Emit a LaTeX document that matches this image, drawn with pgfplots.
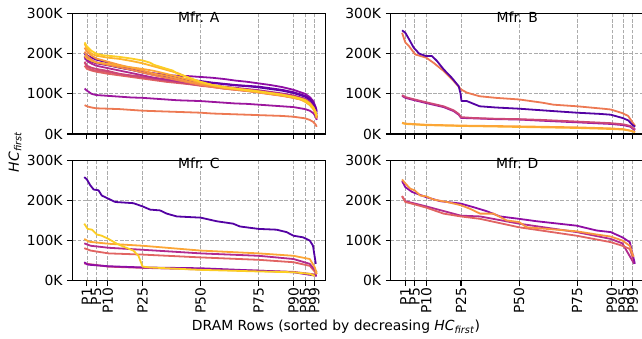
\documentclass[border=0pt]{standalone}
\usepackage{pgfplots}
\pgfplotsset{compat=1.18}
\usepackage{fontspec}
\setmainfont{DejaVu Sans}
\definecolor{pIndigo}{HTML}{5402A3}
\definecolor{pViolet}{HTML}{6A00A8}
\definecolor{pPurple}{HTML}{8F0DA4}
\definecolor{pPurpleB}{HTML}{9C179E}
\definecolor{pMagenta}{HTML}{B12A90}
\definecolor{pPink}{HTML}{CC4778}
\definecolor{pRose}{HTML}{D8576B}
\definecolor{pSalmon}{HTML}{E16462}
\definecolor{pCoral}{HTML}{ED7953}
\definecolor{pOrangeA}{HTML}{F2844B}
\definecolor{pOrange}{HTML}{F89540}
\definecolor{pOrangeB}{HTML}{FCA636}
\definecolor{pGold}{HTML}{FDB42F}
\definecolor{pYellow}{HTML}{FCCE25}
\begin{document}
\fontsize{13.9bp}{16bp}\selectfont
\begin{tikzpicture}
\useasboundingbox (0bp,0bp) rectangle (642bp,-339bp);
\pgfplotsset{
  panel/.style={
    scale only axis, width=253bp, height=120.5bp, anchor=north west,
    xmin=-5.3, xmax=103.7, ymin=0, ymax=300,
    xtick={1,5,10,25,50,75,90,95,99},
    ytick={0,100,200,300}, yticklabels={0K,100K,200K,300K},
    grid=major,
    major grid style={gray!65, line width=0.8bp, dash pattern=on 3.7bp off 1.6bp},
    tick align=outside, tick pos=left, major tick length=4.9bp,
    axis line style={line width=1.1bp},
    every tick/.style={black, line width=1.1bp},
    tick label style={font=\fontsize{13.9bp}{16bp}\selectfont},
    xticklabel style={rotate=90, anchor=east, inner sep=2bp},
    title style={at={(0.5,1)}, anchor=north, inner sep=0pt, yshift=-4bp, font=\fontsize{13.9bp}{16bp}\selectfont},
    every axis plot/.append style={line width=1.8bp, line join=round, no marks},
  }
}
% ---------------- Mfr. A
\begin{axis}[panel, at={(72.3bp,-13.5bp)}, title={Mfr. A}, xticklabels={}]
\addplot[pCoral] coordinates {(0,72)(1,69)(3,66)(5,64)(10,63)(15,62)(20,60)(25,58)(30,57)(35,56)(40,55)(45,54)(50,53)(55,51)(60,50)(65,49)(70,48)(75,47)(80,46)(85,45)(90,43)(95,39)(97,35)(98.5,30)(99.5,24)(100,18)};
\addplot[pPurpleB] coordinates {(0,113)(1,108)(3,100)(5,97)(10,95)(15,93)(20,91)(25,90)(30,88)(35,86)(40,84)(45,83)(50,82)(55,80)(60,78)(65,76)(70,75)(75,73)(80,71)(85,69)(90,67)(95,62)(97,58)(98.5,52)(99.5,44)(100,35)};
\addplot[pSalmon] coordinates {(0,170)(1,162)(3,158)(5,155)(10,150)(15,146)(20,142)(25,138)(30,134)(35,130)(40,127)(45,124)(50,120)(55,117)(60,113)(65,110)(70,107)(75,103)(80,99)(85,95)(90,90)(95,83)(97,75)(98.5,65)(99.5,52)(100,38)};
\addplot[pRose] coordinates {(0,178)(1,168)(3,160)(5,158)(10,154)(15,149)(20,146)(25,143)(30,139)(35,135)(40,131)(45,127)(50,124)(55,120)(60,116)(65,113)(70,110)(75,106)(80,102)(85,98)(90,93)(95,86)(97,79)(98.5,69)(99.5,56)(100,42)};
\addplot[pPink] coordinates {(0,180)(1,170)(3,165)(5,162)(10,157)(15,150)(20,145)(25,141)(30,137)(35,133)(40,129)(45,125)(50,121)(55,118)(60,114)(65,111)(70,108)(75,105)(80,101)(85,97)(90,92)(95,85)(97,78)(98.5,68)(99.5,55)(100,40)};
\addplot[pMagenta] coordinates {(0,192)(1,182)(3,175)(5,170)(10,164)(15,158)(20,152)(25,146)(30,140)(35,136)(40,132)(45,128)(50,125)(55,121)(60,118)(65,115)(70,112)(75,109)(80,105)(85,101)(90,96)(95,88)(97,80)(98.5,70)(99.5,55)(100,42)};
\addplot[pPurple] coordinates {(0,188)(1,185)(3,180)(5,176)(10,171)(15,166)(20,160)(25,155)(30,151)(35,147)(40,145)(45,144)(50,142)(55,140)(60,137)(65,133)(70,130)(75,126)(80,122)(85,117)(90,110)(95,100)(97,92)(98.5,82)(99.5,68)(100,58)};
\addplot[pIndigo] coordinates {(0,195)(1,188)(3,182)(5,178)(10,172)(15,165)(20,160)(25,153)(30,147)(35,142)(40,137)(45,133)(50,130)(55,127)(60,124)(65,121)(70,119)(75,116)(80,112)(85,108)(90,102)(95,93)(97,86)(98.5,76)(99.5,62)(100,50)};
\addplot[pViolet] coordinates {(0,200)(1,196)(3,190)(5,185)(10,178)(15,170)(20,163)(25,156)(30,150)(35,146)(40,140)(45,135)(50,132)(55,128)(60,125)(65,122)(70,120)(75,118)(80,114)(85,110)(90,104)(95,95)(97,88)(98.5,78)(99.5,65)(100,55)};
\addplot[pOrangeA] coordinates {(0,205)(1,195)(3,185)(5,178)(10,172)(15,166)(20,160)(25,153)(30,146)(35,140)(40,134)(45,128)(50,122)(55,117)(60,113)(65,110)(70,107)(75,104)(80,100)(85,96)(90,91)(95,84)(97,76)(98.5,66)(99.5,54)(100,42)};
\addplot[pOrange] coordinates {(0,215)(1,205)(3,195)(5,188)(10,180)(15,172)(20,165)(25,158)(30,150)(35,145)(40,138)(45,130)(50,125)(55,120)(60,116)(65,112)(70,108)(75,104)(80,100)(85,96)(90,92)(95,84)(97,76)(98.5,66)(99.5,55)(100,45)};
\addplot[pOrangeB] coordinates {(0,195)(1,188)(3,182)(5,178)(10,175)(15,170)(20,166)(25,162)(30,157)(35,150)(40,143)(45,135)(50,128)(55,122)(60,117)(65,113)(70,110)(75,106)(80,102)(85,98)(90,93)(95,85)(97,77)(98.5,67)(99.5,55)(100,44)};
\addplot[pGold] coordinates {(0,225)(1,212)(3,200)(5,195)(8,192)(10,190)(15,187)(20,182)(25,176)(30,168)(35,160)(40,152)(45,140)(50,128)(55,122)(60,115)(65,112)(70,108)(75,104)(80,100)(85,96)(90,90)(93,86)(95,80)(97,72)(98.5,62)(99.5,50)(100,40)};
\addplot[pYellow] coordinates {(0,228)(1,218)(3,207)(5,200)(8,196)(10,195)(15,192)(20,188)(25,183)(28,178)(30,172)(35,163)(38,158)(40,150)(45,140)(50,130)(55,122)(60,117)(65,113)(70,109)(75,106)(80,102)(85,98)(90,92)(93,88)(95,83)(97,75)(98.5,65)(99.5,55)(100,45)};
\end{axis}
% ---------------- Mfr. B
\begin{axis}[panel, at={(390.7bp,-13.5bp)}, title={Mfr. B}, xticklabels={}]
\addplot[pGold] coordinates {(-0.4,27)(1,25)(10,22)(25,20)(50,17.5)(75,15)(89.5,12.5)(95,11)(98,8)(99,6)(100,5)};
\addplot[pOrangeB] coordinates {(-0.4,28)(1,26)(10,23)(25,21)(50,19)(75,16.5)(89.5,14)(95,12)(99,7)(100,5)};
\addplot[pPurpleB] coordinates {(-0.4,95)(1,90)(5,84)(10,77)(17.5,67)(21.8,57)(24,48)(25,40)(30,39)(40,37)(50,36)(60,33)(75,29)(89.5,25)(95,22)(98,18)(99,13)(100,10)};
\addplot[pPink] coordinates {(-0.4,97)(1,92)(5,86)(10,79)(17.5,69)(21.8,59)(24,50)(25,42)(30,40)(40,38)(50,37)(60,35)(75,31)(89.5,27)(95,24)(98,20)(99,15)(100,12)};
\addplot[pCoral] coordinates {(-0.4,252)(1,228)(2.4,220)(5.3,198)(10,190)(13.2,177)(17.5,157)(21.8,132)(25,111)(27.5,103)(33,94)(40,90)(50,86)(60,78)(64.8,73)(75,69)(86.2,63)(89.5,61)(94.5,52)(97,45)(99,28)(100,20)};
\addplot[pIndigo] coordinates {(-0.4,258)(1,252)(2.4,238)(4.6,215)(7,200)(10,194)(12.5,194)(14.6,182)(17.5,161)(21,140)(24,119)(24.8,100)(25.2,82)(27.5,82)(33,69)(40,66)(50,63)(64.8,57)(75,53)(85,50)(89.5,48)(94.5,40)(97,34)(99,22)(100,18)};
\end{axis}
% ---------------- Mfr. C
\begin{axis}[panel, at={(72.3bp,-160.2bp)}, title={Mfr. C}, xticklabels={P1,P5,P10,P25,P50,P75,P90,P95,P99}]
\addplot[pPink] coordinates {(-0.15,43)(10.3,35)(25,32)(50,28)(75,25)(90,22)(100,15)};
\addplot[pPurple] coordinates {(-0.15,46)(1.3,40)(10.3,36)(25,33)(50,31)(75,25)(90,21)(100,12)};
\addplot[pSalmon] coordinates {(-0.15,81)(2.6,75)(10.3,68)(25,65)(50,58)(75,52)(90,46)(97,37)(100,17)};
\addplot[pMagenta] coordinates {(-0.15,93)(2.6,87)(10.3,82)(25,77)(50,68)(75,62)(90,54)(97,42)(100,21)};
\addplot[pOrangeB] coordinates {(-0.15,104)(1.9,97)(10.3,92)(25,87)(50,75)(75,68)(90,62)(97,54)(99.2,33)(100,17)};
\addplot[pYellow] coordinates {(-0.15,142)(1.3,129)(3.2,127)(5.3,115)(7.4,112)(10.3,104)(13.9,92)(17.5,83)(21,75)(23.2,62)(25,35)(28.2,33)(50,27)(75,23)(90,21)(97,17)(99.2,12)};
\addplot[pIndigo] coordinates {(-0.15,258)(1,252)(2.4,238)(3.9,227)(6,225)(7.4,212)(10.3,204)(13.2,196)(21,193)(25,185)(28.2,177)(32.5,175)(35.4,167)(39.7,160)(50,157)(56.9,148)(64,142)(66.9,135)(74.9,129)(82.7,127)(87,121)(90,112)(94.1,108)(97,100)(98.4,87)(99.6,42)};
\end{axis}
% ---------------- Mfr. D
\begin{axis}[panel, at={(390.7bp,-160.2bp)}, title={Mfr. D}, xticklabels={P1,P5,P10,P25,P50,P75,P90,P95,P99}]
\addplot[pMagenta] coordinates {(-0.4,210)(1,198)(10,185)(24.9,162)(33.2,160)(50,142)(74.8,121)(89.5,104)(94.5,93)(99.6,42)};
\addplot[pSalmon] coordinates {(-0.4,211)(1,196)(5,190)(10,182)(17.5,167)(24.9,160)(33.2,154)(50,133)(74.8,112)(89.5,96)(94.5,87)(97.7,79)(99.6,46)};
\addplot[pPurple] coordinates {(-0.4,248)(1,233)(3.9,221)(10,208)(16,198)(24.9,192)(30.4,183)(36.1,173)(41.8,160)(50,154)(57.6,148)(74.8,137)(83.4,125)(89.5,121)(94.5,108)(97.7,96)(99.9,42)};
\addplot[pOrange] coordinates {(-0.4,252)(1,242)(3.15,229)(5,225)(7.45,212)(10,210)(13.2,202)(18.9,196)(24.9,188)(28.9,179)(33.2,167)(39,167)(44.7,150)(50,146)(53.3,133)(61.9,129)(74.8,123)(83.4,115)(89.5,110)(94.5,100)(97.7,87)(99.1,62)(99.5,60)};
\end{axis}
\node[rotate=90] at (15bp,-152bp) {\textit{HC}\textsubscript{\textit{first}}};
\node at (336bp,-327bp) {DRAM Rows (sorted by decreasing \textit{HC}\textsubscript{\textit{first}})};
\end{tikzpicture}
\end{document}
